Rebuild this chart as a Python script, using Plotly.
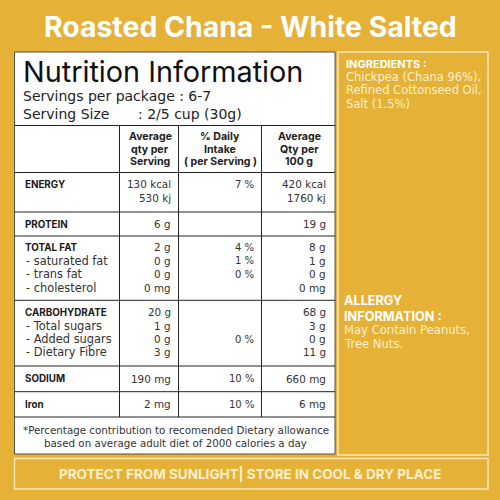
import plotly.graph_objects as go

BG = "#E5B136"
INK = "#222222"
FONT = "Inter"
BODY = "DejaVu Sans"

title = "Roasted Chana - White Salted"
table_title = "Nutrition Information"
servings = ["Servings per package : 6-7", "Serving Size", ": 2/5 cup (30g)"]
headers = [["Average", "qty per", "Serving"], ["% Daily", "Intake", "( per Serving )"], ["Average", "Qty per", "100 g"]]

nutrients = ["ENERGY", "", "PROTEIN", "TOTAL FAT", "- saturated fat", "- trans fat", "- cholesterol",
             "CARBOHYDRATE", "- Total sugars", "- Added sugars", "- Dietary Fibre", "SODIUM", "Iron"]
per_serving = ["130 kcal", "530 kj", "6 g", "2 g", "0 g", "0 g", "0 mg", "20 g", "1 g", "0 g", "3 g", "190 mg", "2 mg"]
daily_pct = ["7 %", "", "", "4 %", "1 %", "0 %", "", "", "", "0 %", "", "10 %", "10 %"]
per_100g = ["420 kcal", "1760 kj", "19 g", "8 g", "1 g", "0 g", "0 mg", "68 g", "3 g", "0 g", "11 g", "660 mg", "6 mg"]
bold_rows = {"ENERGY", "PROTEIN", "TOTAL FAT", "CARBOHYDRATE", "SODIUM", "Iron"}

footnote = ["*Percentage contribution to recomended Dietary allowance",
            "based on average adult diet of 2000 calories a day"]
ingredients_head = "INGREDIENTS :"
ingredients = ["Chickpea (Chana 96%),", "Refined Cottonseed Oil,", "Salt (1.5%)"]
allergy_head = ["ALLERGY", "INFORMATION :"]
allergy = ["May Contain Peanuts,", "Tree Nuts."]
banner = "PROTECT FROM SUNLIGHT| STORE IN COOL & DRY PLACE"

# layout (pixel-like axis units)
row_y = [184, 198, 224, 247, 260.5, 274, 287.5, 312, 326, 339, 352, 378.5, 404]
T, B, L, R = 52, 454, 14.5, 335
h_lines = [125.5, 172.5, 212, 236, 300.3, 366, 391.7, 417]
v_lines = [119.5, 178.5, 261.5]

fig = go.Figure()
fig.add_trace(go.Scatter(x=[0, 500], y=[0, 500], mode="markers", marker=dict(opacity=0), hoverinfo="skip", showlegend=False))

shapes = [dict(type="rect", x0=L, x1=R, y0=T, y1=B, fillcolor="white", line=dict(color="#55504a", width=1), layer="below")]
for y in h_lines:
    shapes.append(dict(type="line", x0=L, x1=R, y0=y, y1=y, line=dict(color=INK, width=1)))
for x in v_lines:
    shapes.append(dict(type="line", x0=x, x1=x, y0=125.5, y1=417, line=dict(color=INK, width=1)))
shapes.append(dict(type="rect", x0=338, x1=488, y0=52, y1=455, line=dict(color="#F6E7B5", width=1.5)))
shapes.append(dict(type="rect", x0=14.5, x1=488, y0=458.5, y1=489, line=dict(color="#F6E7B5", width=1.5)))


def txt(x, y, s, size, color=INK, bold=False, anchor="left", family=None):
    fig.add_annotation(x=x, y=y, text=f"<b>{s}</b>" if bold else s, showarrow=False, xanchor=anchor, yanchor="middle",
                       font=dict(family=family or FONT, size=size, color=color), borderpad=0, borderwidth=0)


txt(250, 26, title, 28.4, "white", True, "center")
txt(23, 71.5, table_title, 28.8, "#111111")
txt(23, 96, servings[0], 14, INK, False, "left", BODY)
txt(23, 114, servings[1], 14, INK, False, "left", BODY)
txt(138, 114, servings[2], 14, INK, False, "left", BODY)

for cx, lines in zip([150, 220, 299], headers):
    for y, s in zip([136, 149, 161], lines):
        txt(cx, y, s, 10.6, INK, True, "center")

for y, n, a, b, c in zip(row_y, nutrients, per_serving, daily_pct, per_100g):
    if n:
        if n in bold_rows:
            txt(24.5, y, n, 9.8, "#1a1a1a", True)
        else:
            txt(26, y, n, 11.4, "#333333", False, "left", BODY)
    txt(171, y, a, 10.4, "#333333", False, "right", BODY)
    if b:
        txt(254, y, b, 10, "#333333", False, "right", BODY)
    txt(326, y, c, 10.4, "#333333", False, "right", BODY)

for y, s in zip([430, 442.5], footnote):
    txt(175.5, y, s, 10.3, "#333333", False, "center", BODY)

CREAM = "#FBF0CF"
txt(346, 63.5, ingredients_head, 11, "white", True)
for y, s in zip([77, 90, 104], ingredients):
    txt(346, y, s, 11.5, CREAM, False, "left", BODY)
for y, s in zip([300, 316], allergy_head):
    txt(344, y, s, 12.7, "white", True)
for y, s in zip([330, 344], allergy):
    txt(344, y, s, 11.6, CREAM, False, "left", BODY)
txt(250, 474, banner, 13.5, "#FBF0CF", True, "center")

fig.update_layout(width=500, height=500, autosize=False, margin=dict(l=0, r=0, t=0, b=0),
                  paper_bgcolor=BG, plot_bgcolor=BG, shapes=shapes, showlegend=False,
                  xaxis=dict(range=[0, 500], visible=False, fixedrange=True),
                  yaxis=dict(range=[500, 0], visible=False, fixedrange=True))
fig.write_html("out.html", config={"displayModeBar": False}, post_script="document.body.style.margin='0';")
